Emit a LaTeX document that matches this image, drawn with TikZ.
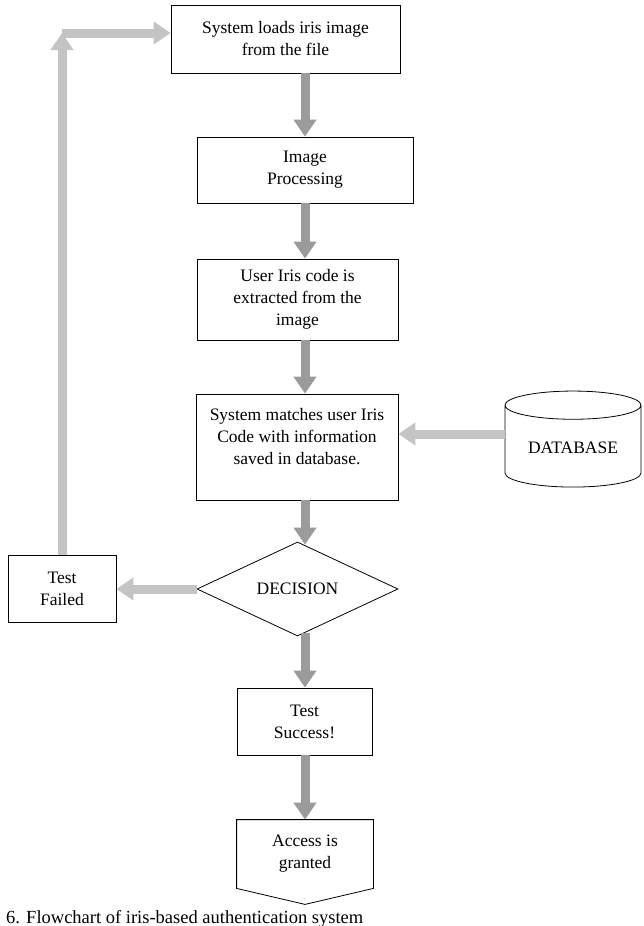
\documentclass[tikz,border=0pt]{standalone}
\usepackage{fontspec}
\setmainfont{Liberation Serif}
\usepackage{tikz}
\usetikzlibrary{
    shapes.geometric,
    arrows.meta
}
\definecolor{flowgray}{HTML}{9B9B9B}
\definecolor{backgray}{HTML}{C4C4C4}
\tikzset{
    >={Triangle[width=22pt,length=17pt]},
    stage/.style={
        draw,
        rectangle,
        line width=0.8pt,
        align=center,
        inner sep=2pt,
        font=\fontsize{17.5}{22}\selectfont
    },
    flow/.style={->, draw=flowgray, line width=9pt},
    back/.style={->, draw=backgray, line width=9pt}
}

\begin{document}
\begin{tikzpicture}[
    x=1pt,
    y=-1pt
]
    \useasboundingbox (0,0) rectangle (643,926);

    % Stages
    \node[stage, minimum width=229pt, minimum height=68pt] (load)    at (285.5,39)  {System loads iris image\\from the file};
    \node[stage, minimum width=216pt, minimum height=66pt] (proc)    at (305,170)   {Image\\Processing};
    \node[stage, minimum width=201pt, minimum height=81pt] (extract) at (297.5,299.5) {User Iris code is\\extracted from the\\image};
    \node[stage, minimum width=202pt, minimum height=106pt] (match)  at (297,447)   {System matches user Iris\\Code with information\\saved in database.\\~};
    \node[stage, cylinder, shape border rotate=90, aspect=0.3,
          minimum width=136pt, minimum height=96pt]        (db)      at (573,448)   {DATABASE};
    \node[stage, diamond, inner sep=0pt,
          minimum width=201pt, minimum height=94pt]        (decide)  at (297.5,589) {DECISION};
    \node[stage, minimum width=108pt, minimum height=67pt] (failed)  at (62,588.5)  {Test\\Failed};
    \node[stage, minimum width=135pt, minimum height=67pt] (success) at (304.5,721.5) {Test\\Success!};
    \node[stage, draw=none, minimum width=136pt, minimum height=68pt] (granted) at (305,854) {Access is\\granted};
    \draw[line width=0.8pt] (granted.north west) -- (granted.north east) -- (granted.south east)
        -- ([yshift=-16pt]granted.south) -- (granted.south west) -- cycle;

    % Caption
    \node[anchor=base west, inner sep=0pt, font=\fontsize{18.5}{20}\selectfont] (caption) at (6,923)
        {6. Flowchart of iris-based authentication system};

    % Connectors
    \coordinate (spine) at (305,0);
    \coordinate (loopin) at ([yshift=6pt]load.west);
    \coordinate (corner) at (failed.north |- loopin);
    \coordinate (dbout) at ([yshift=14pt]db.west);

    \path
        (load.south -| spine)    edge[flow] (proc.north -| spine)
        (proc.south -| spine)    edge[flow] (extract.north -| spine)
        (extract.south -| spine) edge[flow] (match.north -| spine)
        (match.south -| spine)   edge[flow] ([yshift=-3pt]decide.north -| spine)
        ([yshift=3pt]decide.south -| spine) edge[flow] (success.north -| spine)
        (success.south -| spine) edge[flow] (granted.north -| spine);

    \path
        (dbout)       edge[back] (dbout -| match.east)
        (decide.west) edge[back] (decide.west -| failed.east)
        (failed)      edge[back] (corner)
        (corner)      edge[back] (loopin);

\end{tikzpicture}
\end{document}
